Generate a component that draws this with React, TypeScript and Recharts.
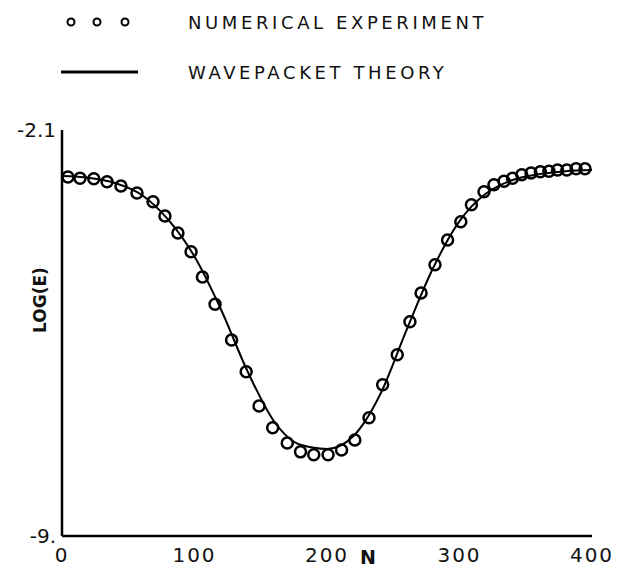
import { ComposedChart, Line, Scatter, XAxis, YAxis, Legend } from 'recharts';

// numerical experiment (circles)
const EXP_N: number[] = [
    4.5, 13.6, 24, 34, 44.5, 56.6, 68.7, 77.7, 87.5, 97.4,
    106, 115.5, 128, 139, 148.7, 159, 170, 180, 190, 200.8,
    211, 221, 231.7, 242, 253, 262.6, 271, 281.5, 291, 301,
    309, 318.5, 326, 333.6, 340, 347, 354, 361, 367.5, 374,
    381, 388, 394.7,
];
const EXP_LOG: number[] = [
    -2.90, -2.92, -2.93, -2.98, -3.05, -3.17, -3.32, -3.56, -3.85, -4.17,
    -4.60, -5.06, -5.67, -6.21, -6.79, -7.16, -7.42, -7.57, -7.62, -7.62,
    -7.54, -7.37, -6.99, -6.43, -5.92, -5.36, -4.87, -4.39, -3.97, -3.66,
    -3.37, -3.15, -3.03, -2.97, -2.92, -2.86, -2.83, -2.81, -2.80, -2.78,
    -2.78, -2.76, -2.76,
];

// wavepacket theory (solid line)
const THEORY_N: number[] = [0, 20, 40, 60, 80, 100, 120, 140, 160, 180, 200, 220, 240, 260, 280, 300, 320, 340, 360, 380, 400];
const THEORY_LOG: number[] = [
    -2.88, -2.91, -3.00, -3.20, -3.62, -4.25, -5.15, -6.20, -7.05, -7.45,
    -7.52, -7.30, -6.60, -5.50, -4.45, -3.65, -3.18, -2.95, -2.85, -2.80, -2.78,
];

const X_TICKS = [0, 100, 200, 300, 400];
const Y_TICKS = [-9, -2.1];

const FONT = '"DejaVu Sans", sans-serif';

const expData = EXP_N.map((n, i) => ({ n, log: EXP_LOG[i] }));
const theoryData = THEORY_N.map((n, i) => ({ n, log: THEORY_LOG[i] }));

const OpenCircle = (props: any) => (
    <circle cx={props.cx} cy={props.cy} r={5.5} fill="none" stroke="#000" strokeWidth={2.5} />
);

const LegendBox = ({ payload }: any) => (
    <div style={{ fontFamily: FONT, fontSize: 18, letterSpacing: 3.6, color: '#111' }}>
        {(payload ?? []).map((entry: any, i: number) => (
            <div key={i} style={{ position: 'absolute', left: 58, top: i === 0 ? 10 : 60, display: 'flex', alignItems: 'center', whiteSpace: 'nowrap' }}>
                <svg width={130} height={24}>
                    {entry.type === 'line' ? (
                        <line x1={3} y1={12} x2={80} y2={12} stroke="#000" strokeWidth={3} />
                    ) : (
                        <>
                            <circle cx={13} cy={12} r={3.5} fill="none" stroke="#000" strokeWidth={2} />
                            <circle cx={39} cy={12} r={3.5} fill="none" stroke="#000" strokeWidth={2} />
                            <circle cx={67} cy={12} r={3.5} fill="none" stroke="#000" strokeWidth={2} />
                        </>
                    )}
                </svg>
                <span>{entry.value}</span>
            </div>
        ))}
    </div>
);

export default function App() {
    return <div style={{ position: 'absolute', left: 0, top: 0, width: 632, height: 578, background: '#fff' }}>
        <ComposedChart width={632} height={578} margin={{ top: 130, right: 40, bottom: 0, left: 0 }}>
            <XAxis
                type="number"
                dataKey="n"
                domain={[0, 400]}
                ticks={X_TICKS}
                tickLine={false}
                tickMargin={6}
                axisLine={{ stroke: '#000', strokeWidth: 2.5 }}
                height={42}
                tick={{ fill: '#111', fontSize: 20, fontFamily: FONT, letterSpacing: 2 }}
                label={{
                    content: () => (
                        <text x={368} y={564} textAnchor="middle" fontFamily={FONT} fontSize={19} fontWeight="bold" fill="#111">N</text>
                    ),
                }}
            />
            <YAxis
                type="number"
                dataKey="log"
                domain={[-9, -2.1]}
                ticks={Y_TICKS}
                tickFormatter={(v: number) => (v === -9 ? '-9.' : v.toFixed(1))}
                tickLine={false}
                tickSize={2}
                tickMargin={4}
                axisLine={{ stroke: '#000', strokeWidth: 2.5 }}
                width={62}
                tick={{ fill: '#111', fontSize: 20, fontFamily: FONT }}
                label={{
                    content: () => (
                        <text x={40} y={300} transform="rotate(-90 40 300)" textAnchor="middle" dominantBaseline="central" fontFamily={FONT} fontSize={17} fontWeight="bold" fill="#111">LOG(E)</text>
                    ),
                }}
            />
            <Line
                data={theoryData}
                dataKey="log"
                name="WAVEPACKET THEORY"
                type="monotone"
                stroke="#000"
                strokeWidth={2}
                dot={false}
                legendType="line"
                isAnimationActive={false}
            />
            <Scatter
                data={expData}
                dataKey="log"
                name="NUMERICAL EXPERIMENT"
                shape={OpenCircle}
                legendType="circle"
                isAnimationActive={false}
            />
            <Legend
                layout="vertical"
                verticalAlign="middle"
                align="center"
                itemSorter={(item: any) => (item.type === 'line' ? 1 : 0)}
                wrapperStyle={{ position: 'absolute', top: 0, left: 0, width: 632, height: 100 }}
                content={LegendBox}
            />
        </ComposedChart>
    </div>
}
